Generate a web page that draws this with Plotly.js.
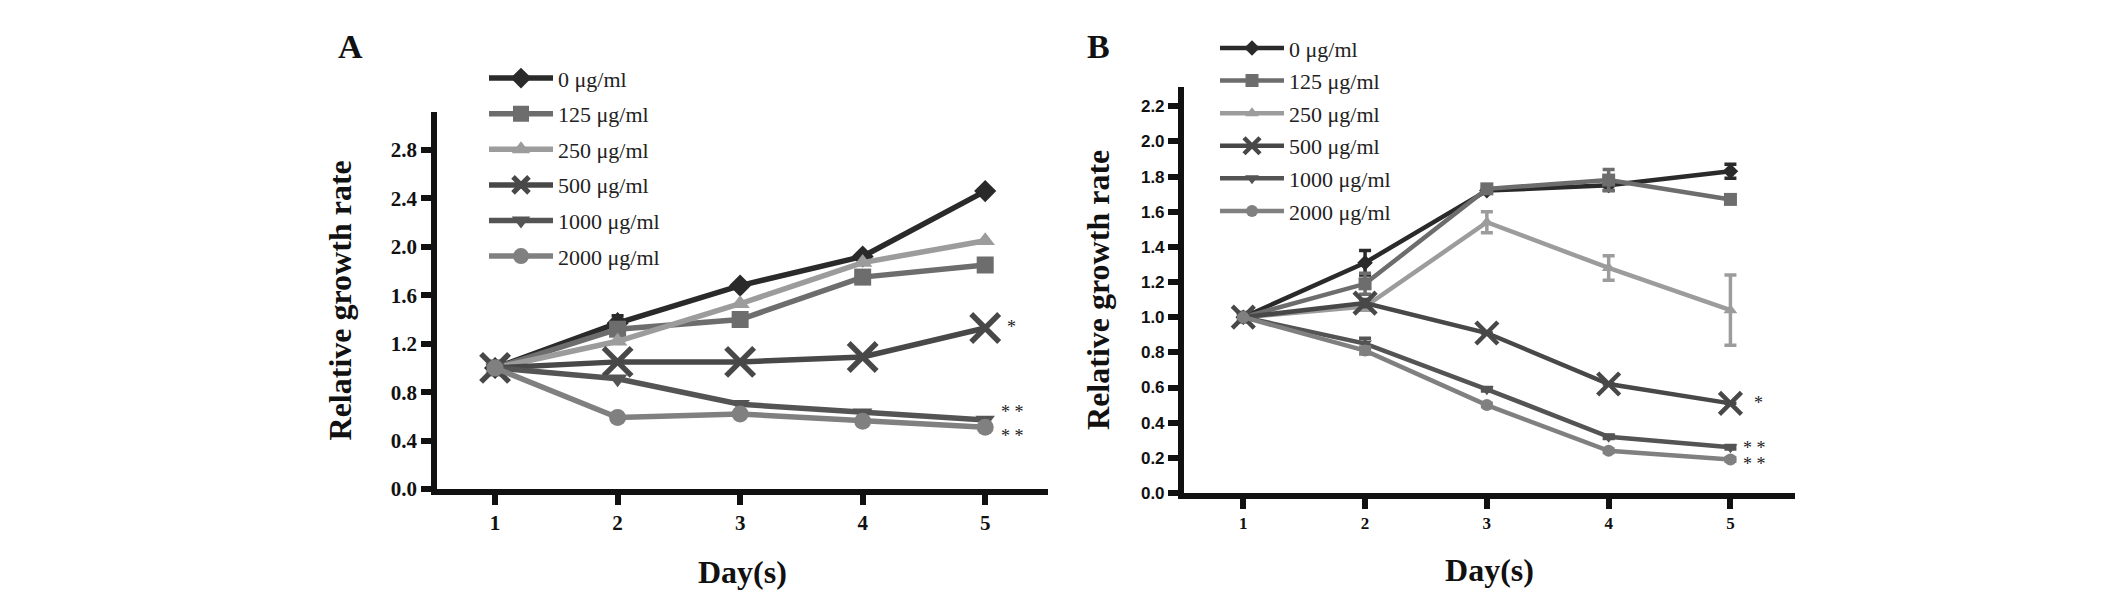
<!DOCTYPE html>
<html>
<head>
<meta charset="utf-8">
<script src="https://cdn.plot.ly/plotly-3.0.1.min.js"></script>
<style>
  html, body { margin: 0; padding: 0; background: #fff; }
  #chart { width: 2126px; height: 603px; }
</style>
</head>
<body>
<div id="chart"></div>
<script>
    var days = [1, 2, 3, 4, 5];
    var doses = ['0 μg/ml', '125 μg/ml', '250 μg/ml', '500 μg/ml', '1000 μg/ml', '2000 μg/ml'];

    // panel A values
    var a0    = [1.00, 1.37, 1.68, 1.92, 2.46];
    var a125  = [1.00, 1.32, 1.40, 1.75, 1.85];
    var a250  = [1.00, 1.22, 1.53, 1.87, 2.05];
    var a500  = [1.00, 1.05, 1.05, 1.09, 1.33];
    var a1000 = [1.00, 0.91, 0.70, 0.63, 0.57];
    var a2000 = [1.00, 0.59, 0.62, 0.56, 0.51];
    var aErr0   = [0, 0.06, 0, 0, 0];
    var aErr125 = [0, 0.03, 0, 0, 0];

    // panel B values and error bars
    var b0    = [1.00, 1.31, 1.72, 1.75, 1.83];
    var b125  = [1.00, 1.19, 1.73, 1.78, 1.67];
    var b250  = [1.00, 1.06, 1.54, 1.28, 1.04];
    var b500  = [1.00, 1.08, 0.91, 0.62, 0.51];
    var b1000 = [1.00, 0.85, 0.59, 0.32, 0.26];
    var b2000 = [1.00, 0.81, 0.50, 0.24, 0.19];
    var bErr0    = [0, 0.07, 0.01, 0.03, 0.04];
    var bErr125  = [0, 0.06, 0.01, 0.06, 0.01];
    var bErr250  = [0, 0.02, 0.06, 0.07, 0.20];
    var bErr500  = [0, 0.02, 0, 0, 0];
    var bErr1000 = [0, 0.03, 0.01, 0.01, 0.01];
    var bErr2000 = [0, 0.02, 0.01, 0.01, 0.01];

    // significance marks: [day, value, text]
    var starsA = [[5, 1.34, '*'], [5, 0.64, '* *'], [5, 0.44, '* *']];
    var starsB = [[5, 0.51, '*'], [5, 0.255, '* *'], [5, 0.165, '* *']];

    var colors  = ['#2a2a2a', '#6d6d6d', '#9c9c9c', '#484848', '#545454', '#808080'];
    var symbols = ['diamond', 'square', 'triangle-up', 'x-thin', 'triangle-down', 'circle'];
    var sizesA  = [17, 17, 17, 28, 17, 17];
    var sizesB  = [12, 13, 12, 22, 12, 12];

    var serif = 'Liberation Serif, Times New Roman, serif';
    var sans = 'Liberation Sans, Arial, sans-serif';

    function series(i, xa, ya, yv, err, leg, sizes, lw) {
        var isX = symbols[i] === 'x-thin';
        var t = {
            x: days, y: yv,
            name: doses[i],
            type: 'scatter',
            mode: 'lines+markers',
            xaxis: xa, yaxis: ya,
            legend: leg,
            legendgroup: leg + i,
            line: {color: colors[i], width: lw},
            marker: {symbol: symbols[i], size: sizes[i], color: colors[i],
                     line: {color: colors[i], width: isX ? lw : 0}},
            cliponaxis: false
        };
        if (err) {
            t.error_y = {type: 'data', array: err, visible: true,
                         color: colors[i], thickness: 3.5, width: 6};
        }
        return t;
    }

    var data = [
        series(0, 'x', 'y', a0, aErr0, 'legend', sizesA, 5.5),
        series(1, 'x', 'y', a125, aErr125, 'legend', sizesA, 5.5),
        series(2, 'x', 'y', a250, null, 'legend', sizesA, 5.5),
        series(3, 'x', 'y', a500, null, 'legend', sizesA, 5.5),
        series(4, 'x', 'y', a1000, null, 'legend', sizesA, 5.5),
        series(5, 'x', 'y', a2000, null, 'legend', sizesA, 5.5),
        series(0, 'x2', 'y2', b0, bErr0, 'legend2', sizesB, 4.5),
        series(1, 'x2', 'y2', b125, bErr125, 'legend2', sizesB, 4.5),
        series(2, 'x2', 'y2', b250, bErr250, 'legend2', sizesB, 4.5),
        series(3, 'x2', 'y2', b500, bErr500, 'legend2', sizesB, 4.5),
        series(4, 'x2', 'y2', b1000, bErr1000, 'legend2', sizesB, 4.5),
        series(5, 'x2', 'y2', b2000, bErr2000, 'legend2', sizesB, 4.5)
    ];

    var ttl = {family: serif, size: 32, color: '#111', weight: 'bold'};

    function xax(domain, range, fsize, anchor) {
        return {
            domain: domain, range: range, anchor: anchor,
            tickvals: days, ticks: 'outside', ticklen: 10, tickwidth: 6, tickcolor: '#111',
            showline: true, linewidth: 6, linecolor: '#111',
            showgrid: false, zeroline: false,
            tickfont: {family: serif, size: fsize, color: '#111', weight: 'bold'},
            title: {text: 'Day(s)', font: ttl, standoff: 28}
        };
    }
    function yax(domain, range, dtick, anchor, tfont, standoff) {
        return {
            domain: domain, range: range, anchor: anchor,
            tick0: 0, dtick: dtick, tickformat: '.1f',
            ticks: 'outside', ticklen: 10, tickwidth: 6, tickcolor: '#111',
            showline: true, linewidth: 6, linecolor: '#111',
            showgrid: false, zeroline: false,
            tickfont: tfont,
            title: {text: 'Relative growth rate', font: ttl, standoff: standoff}
        };
    }

    var starFont = {family: serif, size: 18, color: '#222'};
    function stars(list, xa, ya, shifts) {
        return list.map(function (s, k) {
            return {xref: xa, yref: ya, x: s[0], y: s[1], text: s[2], showarrow: false,
                    xanchor: 'left', yanchor: 'middle', xshift: shifts[k], font: starFont};
        });
    }

    var panelFont = {family: serif, size: 34, color: '#111', weight: 'bold'};
    var annotations = [
        {xref: 'paper', yref: 'paper', x: 350 / 2126, y: 1 - 47 / 603, text: 'A',
         xanchor: 'center', yanchor: 'middle', showarrow: false, font: panelFont},
        {xref: 'paper', yref: 'paper', x: 1098 / 2126, y: 1 - 47 / 603, text: 'B',
         xanchor: 'center', yanchor: 'middle', showarrow: false, font: panelFont}
    ].concat(stars(starsA, 'x', 'y', [20, 14, 14]), stars(starsB, 'x2', 'y2', [22, 11, 11]));

    var legendFont = {family: serif, size: 22, color: '#222'};

    var layout = {
        width: 2126, height: 603,
        margin: {l: 0, r: 0, t: 0, b: 0},
        paper_bgcolor: '#fff', plot_bgcolor: '#fff',
        showlegend: true,
        xaxis: xax([0.2056, 0.4928], [0.527, 5.51], 21, 'y'),
        yaxis: yax([0.189, 0.8148], [0, 3.116], 0.4, 'x',
                   {family: serif, size: 21, color: '#111', weight: 'bold'}, 31),
        xaxis2: xax([0.5569, 0.8443], [0.513, 5.53], 17, 'y2'),
        yaxis2: yax([0.1824, 0.8562], [0, 2.311], 0.2, 'x2',
                    {family: sans, size: 17, color: '#111', weight: 'bold'}, 24),
        legend: {x: 484 / 2126, y: 0.905, xanchor: 'left', yanchor: 'top',
                 font: legendFont, itemwidth: 64,
                 tracegroupgap: 4, bgcolor: 'rgba(0,0,0,0)'},
        legend2: {x: 1215 / 2126, y: 0.955, xanchor: 'left', yanchor: 'top',
                  font: legendFont, itemwidth: 64,
                  tracegroupgap: 1, bgcolor: 'rgba(0,0,0,0)'},
        annotations: annotations
    };

    Plotly.newPlot('chart', data, layout, {displayModeBar: false, responsive: false});
</script>
</body>
</html>
